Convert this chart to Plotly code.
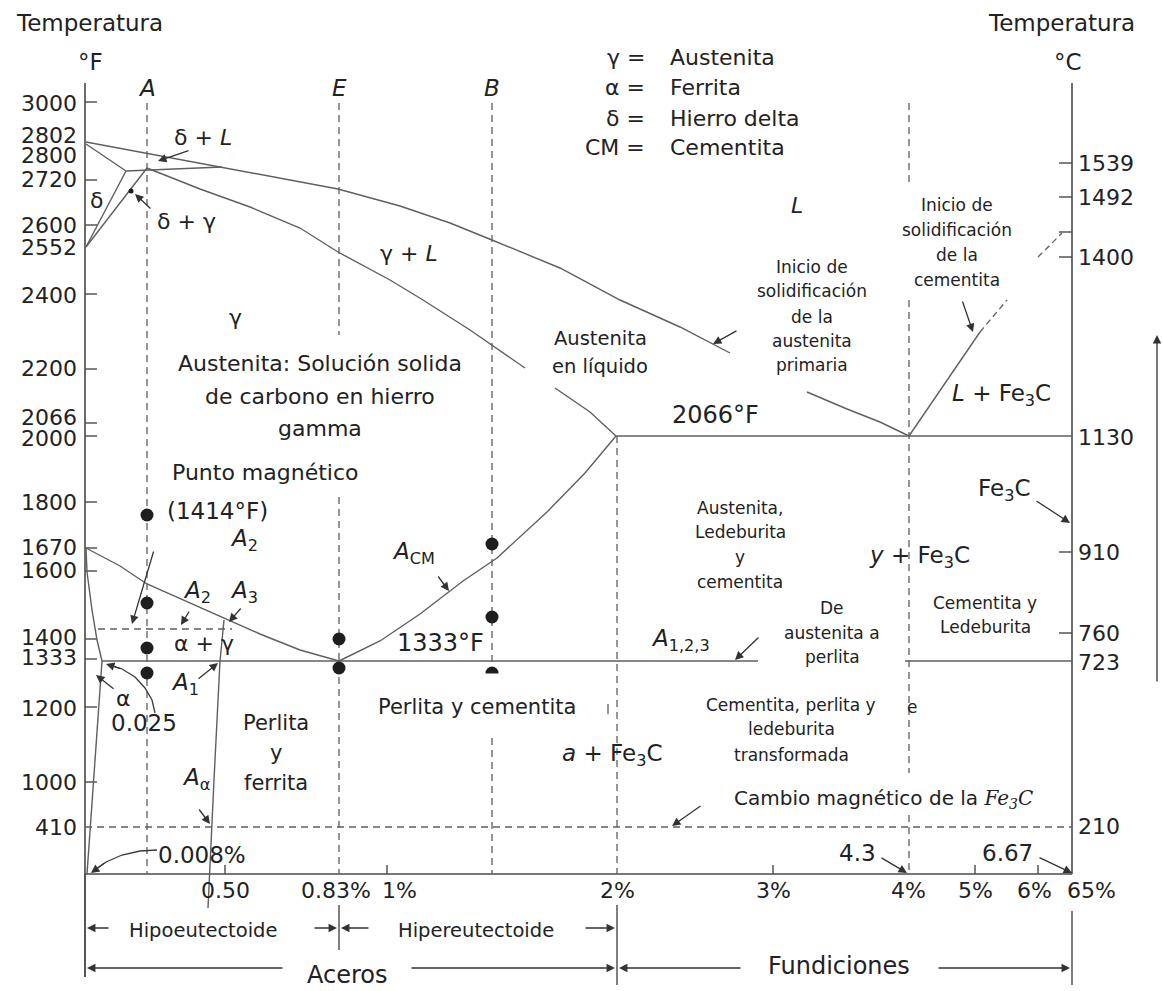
import plotly.graph_objects as go

W, H = 1163, 991
FONT = "DejaVu Sans"
INK = "#222222"
GREY = "#5f5f5f"
AXC = "#4a4a4a"

# ------------------------------------------------------------------
# DATA  (schematic diagram: coordinates are the drawing units of the
# original figure, x to the right, y downward)
# ------------------------------------------------------------------
# frame / axes
AXIS_LEFT_X, AXIS_LEFT_Y = [85, 85], [83, 977]
AXIS_RIGHT_X, AXIS_RIGHT_Y = [1072, 1072], [83, 874]
AXIS_BOTTOM_X, AXIS_BOTTOM_Y = [85, 1072], [874, 874]

# left temperature scale (°F)
F_LABELS = ["3000", "2802", "2800", "2720", "2600", "2552", "2400", "2200", "2066",
            "2000", "1800", "1670", "1600", "1400", "1333", "1200", "1000", "410"]
F_LABEL_Y = [103, 135, 155, 179, 225, 247, 295, 368, 417,
             438, 502, 547, 570, 637, 657, 708, 782, 827]
F_TICK_Y = [102, 180, 225, 294, 369, 423, 436, 502, 548, 571, 639, 659, 707, 782]

# right temperature scale (°C)
C_LABELS = ["1539", "1492", "1400", "1130", "910", "760", "723", "210"]
C_LABEL_Y = [163, 197, 257, 437, 552, 633, 662, 826]
C_TICK_Y = [163, 197, 232, 257, 552, 633]

# carbon content scale
X_LABELS = ["0.50", "0.83%", "1%", "2%", "3%", "4%", "5%", "6%", "65%"]
X_LABEL_X = [225, 336, 399, 617, 773, 908, 975, 1034, 1091]
X_TICK_X = [225, 387, 773, 975, 1038]

# phase boundaries
LIQUIDUS_1_X = [86, 150, 200, 260, 300, 338, 400, 450, 492, 560, 620, 680, 730]
LIQUIDUS_1_Y = [142, 154, 163, 174, 182, 189, 206, 223, 240, 268, 300, 327, 353]
LIQUIDUS_2_X = [807, 847, 880, 909]
LIQUIDUS_2_Y = [392, 409, 422, 436]
SOLIDUS_1_X = [147, 200, 250, 300, 338, 390, 423, 470, 525]
SOLIDUS_1_Y = [168, 189, 207, 228, 252, 280, 300, 330, 368]
SOLIDUS_2_X = [555, 590, 616]
SOLIDUS_2_Y = [388, 412, 436]
DELTA_LIQ_X, DELTA_LIQ_Y = [86, 126], [144, 171]
PERITECTIC_X, PERITECTIC_Y = [126, 222], [171, 167]
DELTA_SOLVUS_X, DELTA_SOLVUS_Y = [86, 126], [247, 171]
GAMMA_DELTA_X, GAMMA_DELTA_Y = [86, 147], [247, 168]
CEM_LIQ_X, CEM_LIQ_Y = [909, 980], [436, 332]
CEM_LIQ_DASH1_X, CEM_LIQ_DASH1_Y = [980, 1007], [332, 300]
CEM_LIQ_DASH2_X, CEM_LIQ_DASH2_Y = [1038, 1062], [257, 233]
EUTECTIC_X, EUTECTIC_Y = [616, 1072], [436, 436]
A3_X = [86, 120, 147, 190, 227, 260, 300, 339]
A3_Y = [548, 566, 584, 603, 620, 634, 650, 661]
ACM_X = [339, 380, 420, 463, 497, 547, 585, 616]
ACM_Y = [661, 641, 614, 581, 558, 512, 473, 436]
EUTECTOID_1_X, EUTECTOID_1_Y = [102, 758], [661, 661]
EUTECTOID_2_X, EUTECTOID_2_Y = [905, 1072], [661, 661]
ALPHA_X, ALPHA_Y = [86, 87, 92, 97, 102], [548, 572, 610, 640, 661]
ALPHA_SOLVUS_X, ALPHA_SOLVUS_Y = [102, 87], [661, 874]
A_ALPHA_X, A_ALPHA_Y = [224, 220, 214, 208], [620, 661, 780, 908]

# dashed reference lines
DASH_1400_X, DASH_1400_Y = [98, 232], [629, 629]
DASH_410_X, DASH_410_Y = [85, 1072], [827, 827]
VERT_DASH = [  # (x, y_start, y_end)
    (147, 103, 874),
    (339, 103, 335), (339, 497, 874),
    (492, 103, 673), (492, 738, 874),
    (617, 436, 874),
    (909, 103, 182), (909, 300, 773), (909, 815, 874),
]

# steel/cast-iron brackets under the axis
BRACKET_V = [(85, 874, 977), (339, 905, 950), (617, 905, 985), (1072, 911, 985)]
BRACKET_ARROWS = [  # (head_x, head_y, tail_x, tail_y)
    (87, 928, 110, 928), (337, 928, 313, 928), (341, 928, 370, 928), (615, 928, 584, 928),
    (87, 968, 284, 968), (615, 968, 410, 968), (619, 968, 742, 968), (1070, 968, 937, 968),
]

# observation points on the A, E, B alloys
DOT_X = [147, 147, 147, 147, 339, 339, 492, 492]
DOT_Y = [515, 603, 648, 673, 639, 668, 544, 617]
HALF_DOT = (492, 673)
SMALL_DOT = (131, 191)

# pointer arrows (head_x, head_y, tail_x, tail_y)
POINTERS = [
    (158, 161, 190, 150),    # δ + L
    (135, 194, 152, 210),    # δ + γ
    (132, 624, 154, 550),    # 1414 °F
    (181, 625, 190, 610),    # A2
    (229, 622, 242, 607),    # A3
    (218, 663, 197, 680),    # A1
    (96, 675, 115, 690),     # α
    (210, 824, 198, 808),    # Aα
    (449, 591, 437, 575),    # ACM
    (735, 660, 760, 636),    # A1,2,3
    (713, 344, 738, 330),    # primary austenite
    (973, 332, 962, 300),    # cementite
    (1070, 523, 1035, 500),  # Fe3C
    (672, 826, 702, 805),    # magnetic change
    (907, 873, 880, 857),    # 4.3
    (1072, 873, 1038, 857),  # 6.67
    (1157, 335, 1157, 683),  # temperature arrow
]
CURVE_0025_X, CURVE_0025_Y = [155, 152, 145, 135, 122, 110], [713, 700, 688, 677, 669, 665]
CURVE_0008_X, CURVE_0008_Y = [157, 140, 122, 106, 96], [850, 851, 855, 862, 869]

# text labels: (text, x, y, size, anchor)
I = lambda s: "<i>%s</i>" % s
FE3C = "Fe<sub>3</sub>C"
LABELS = [
    ("Temperatura", 89, 23, 23, "center"), ("Temperatura", 1061, 23, 23, "center"),
    ("°F", 90, 62, 23, "center"), ("°C", 1068, 62, 23, "center"),
    (I("A"), 147, 88, 23, "center"), (I("E"), 339, 88, 23, "center"), (I("B"), 492, 88, 23, "center"),
    ("γ =", 647, 57, 22, "right"), ("α =", 647, 87, 22, "right"),
    ("δ =", 647, 118, 22, "right"), ("CM =", 647, 147, 22, "right"),
    ("Austenita", 668, 57, 22, "left"), ("Ferrita", 668, 87, 22, "left"),
    ("Hierro delta", 668, 118, 22, "left"), ("Cementita", 668, 147, 22, "left"),
    ("δ + " + I("L"), 203, 137, 22, "center"), ("δ", 96, 200, 22, "center"),
    ("δ + γ", 186, 221, 22, "center"), ("γ", 235, 317, 22, "center"),
    ("γ + " + I("L"), 409, 253, 22, "center"), (I("L"), 797, 205, 22, "center"),
    ("Austenita: Solución solida", 320, 363, 22, "center"),
    ("de carbono en hierro", 320, 396, 22, "center"),
    ("gamma", 320, 428, 22, "center"),
    ("Punto magnético", 265, 472, 22, "center"),
    ("(1414°F)", 217, 511, 23, "center"),
    (I("A") + "<sub>2</sub>", 244, 540, 23, "center"),
    (I("A") + "<sub>2</sub>", 197, 592, 23, "center"),
    (I("A") + "<sub>3</sub>", 244, 592, 23, "center"),
    ("α + γ", 204, 643, 22, "center"),
    (I("A") + "<sub>1</sub>", 185, 684, 23, "center"),
    ("α", 123, 698, 22, "center"),
    ("0.025", 144, 723, 23, "center"),
    ("Perlita", 276, 723, 21, "center"), ("y", 276, 753, 21, "center"),
    ("ferrita", 276, 783, 21, "center"),
    (I("A") + "<sub>α</sub>", 196, 779, 23, "center"),
    ("0.008%", 202, 855, 23, "center"),
    ("Austenita", 600, 338, 19.5, "center"), ("en líquido", 600, 366, 19.5, "center"),
    ("2066°F", 715, 415, 24, "center"),
    ("Inicio de", 812, 267, 17, "center"), ("solidificación", 812, 291, 17, "center"),
    ("de la", 812, 317, 17, "center"), ("austenita", 812, 341, 17, "center"),
    ("primaria", 812, 365, 17, "center"),
    ("Inicio de", 957, 205, 17, "center"), ("solidificación", 957, 230, 17, "center"),
    ("de la", 957, 255, 17, "center"), ("cementita", 957, 280, 17, "center"),
    (I("L") + " + " + FE3C, 1001, 395, 23, "center"),
    (FE3C, 1004, 490, 23, "center"),
    (I("y") + " + " + FE3C, 919, 557, 23, "center"),
    ("Austenita,", 740, 508, 17, "center"), ("Ledeburita", 740, 532, 17, "center"),
    ("y", 740, 557, 17, "center"), ("cementita", 740, 582, 17, "center"),
    (I("A") + "<sub>CM</sub>", 413, 553, 23, "center"),
    ("1333°F", 440, 643, 24, "center"),
    (I("A") + "<sub>1,2,3</sub>", 680, 640, 23, "center"),
    ("De", 832, 608, 17, "center"), ("austenita a", 832, 633, 17, "center"),
    ("perlita", 832, 657, 17, "center"),
    ("Cementita y", 985, 603, 17, "center"), ("Ledeburita", 985, 627, 17, "center"),
    ("Perlita y cementita", 477, 707, 21, "center"),
    ("Cementita, perlita y", 791, 705, 17, "center"), ("ledeburita", 791, 729, 17, "center"),
    ("transformada", 791, 755, 17, "center"),
    ("e", 912, 707, 17, "center"),
    (I("a") + " + " + FE3C, 612, 755, 23, "center"),
    ("Cambio magnético de la <span style=\"font-family:'DejaVu Serif'\"><i>Fe<sub>3</sub>C</i></span>",
     732, 799, 20, "left"),
    ("4.3", 857, 853, 23, "center"), ("6.67", 1007, 853, 23, "center"),
    ("Hipoeutectoide", 203, 930, 19.5, "center"), ("Hipereutectoide", 476, 930, 19.5, "center"),
    ("Aceros", 347, 975, 24, "center"), ("Fundiciones", 839, 966, 24, "center"),
]

# ------------------------------------------------------------------
fig = go.Figure()


def line(xs, ys, color=GREY, width=1.4, dash=None):
    fig.add_trace(go.Scatter(x=xs, y=ys, mode="lines", hoverinfo="skip", showlegend=False,
                             line=dict(color=color, width=width, dash=dash)))


# axes
line(AXIS_LEFT_X, AXIS_LEFT_Y, AXC, 1.6)
line(AXIS_RIGHT_X, AXIS_RIGHT_Y, AXC, 1.6)
line(AXIS_BOTTOM_X, AXIS_BOTTOM_Y, AXC, 1.6)

tx, ty = [], []
for y in F_TICK_Y:
    tx += [85, 97, None]; ty += [y, y, None]
for y in C_TICK_Y:
    tx += [1059, 1072, None]; ty += [y, y, None]
for x in X_TICK_X:
    tx += [x, x, None]; ty += [865, 874, None]
line(tx, ty, AXC, 1.4)

# phase boundaries
for xs, ys in [(LIQUIDUS_1_X, LIQUIDUS_1_Y), (LIQUIDUS_2_X, LIQUIDUS_2_Y),
               (SOLIDUS_1_X, SOLIDUS_1_Y), (SOLIDUS_2_X, SOLIDUS_2_Y),
               (DELTA_LIQ_X, DELTA_LIQ_Y), (PERITECTIC_X, PERITECTIC_Y),
               (DELTA_SOLVUS_X, DELTA_SOLVUS_Y), (GAMMA_DELTA_X, GAMMA_DELTA_Y),
               (CEM_LIQ_X, CEM_LIQ_Y), (EUTECTIC_X, EUTECTIC_Y),
               (A3_X, A3_Y), (ACM_X, ACM_Y),
               (EUTECTOID_1_X, EUTECTOID_1_Y), (EUTECTOID_2_X, EUTECTOID_2_Y),
               (ALPHA_X, ALPHA_Y), (ALPHA_SOLVUS_X, ALPHA_SOLVUS_Y),
               (A_ALPHA_X, A_ALPHA_Y)]:
    line(xs, ys)

line(CEM_LIQ_DASH1_X, CEM_LIQ_DASH1_Y, GREY, 1.3, "6px,4px")
line(CEM_LIQ_DASH2_X, CEM_LIQ_DASH2_Y, GREY, 1.3, "6px,4px")
line(DASH_1400_X, DASH_1400_Y, GREY, 1.3, "7px,5px")
line(DASH_410_X, DASH_410_Y, GREY, 1.3, "7px,5px")
vx, vy = [], []
for x, y0, y1 in VERT_DASH:
    vx += [x, x, None]; vy += [y0, y1, None]
line(vx, vy, GREY, 1.3, "7px,5px")

# brackets
bx, by = [], []
for x, y0, y1 in BRACKET_V:
    bx += [x, x, None]; by += [y0, y1, None]
line(bx, by, AXC, 1.4)

# small artefact tick
line([608, 608], [704, 714], GREY, 1.3)

# curved pointers
line(CURVE_0025_X, CURVE_0025_Y, "#3a3a3a", 1.3)
line(CURVE_0008_X, CURVE_0008_Y, "#3a3a3a", 1.3)

# points
fig.add_trace(go.Scatter(x=DOT_X, y=DOT_Y, mode="markers", hoverinfo="skip", showlegend=False,
                         marker=dict(size=13, color="#1e1e1e")))
fig.add_trace(go.Scatter(x=[HALF_DOT[0]], y=[HALF_DOT[1]], mode="markers", hoverinfo="skip",
                         showlegend=False, marker=dict(size=13, color="#1e1e1e")))
fig.add_trace(go.Scatter(x=[SMALL_DOT[0]], y=[SMALL_DOT[1]], mode="markers", hoverinfo="skip",
                         showlegend=False, marker=dict(size=5, color="#1e1e1e")))
fig.add_shape(type="rect", x0=HALF_DOT[0] - 8, x1=HALF_DOT[0] + 8, y0=HALF_DOT[1] + 0.5,
              y1=HALF_DOT[1] + 9, fillcolor="white", line=dict(width=0), layer="above")

ARROW_STYLE = dict(xref="x", yref="y", axref="x", ayref="y", text="", showarrow=True,
                   arrowhead=2, arrowsize=1.3, arrowwidth=1.3, arrowcolor="#333333", standoff=0,
                   font=dict(family=FONT, size=10, color=INK))
annotations = []
for hx, hy, tx_, ty_ in POINTERS + BRACKET_ARROWS:
    annotations.append(dict(x=hx, y=hy, ax=tx_, ay=ty_, **ARROW_STYLE))
# heads of the curved pointers
annotations.append(dict(x=CURVE_0025_X[-1] - 4, y=CURVE_0025_Y[-1] - 1, ax=CURVE_0025_X[-2],
                        ay=CURVE_0025_Y[-2], **ARROW_STYLE))
annotations.append(dict(x=CURVE_0008_X[-1] - 5, y=CURVE_0008_Y[-1] + 4, ax=CURVE_0008_X[-2],
                        ay=CURVE_0008_Y[-2], **ARROW_STYLE))

for lab, y in zip(F_LABELS, F_LABEL_Y):
    annotations.append(dict(x=79, y=y, text=lab, xanchor="right", yanchor="middle", showarrow=False,
                            font=dict(family=FONT, size=22, color=INK)))
for lab, y in zip(C_LABELS, C_LABEL_Y):
    annotations.append(dict(x=1076, y=y, text=lab, xanchor="left", yanchor="middle", showarrow=False,
                            font=dict(family=FONT, size=22, color=INK)))
for lab, x in zip(X_LABELS, X_LABEL_X):
    annotations.append(dict(x=x, y=890, text=lab, xanchor="center", yanchor="middle", showarrow=False,
                            font=dict(family=FONT, size=22, color=INK)))
for text, x, y, size, anchor in LABELS:
    annotations.append(dict(x=x, y=y, text=text, xanchor=anchor, yanchor="middle", showarrow=False,
                            font=dict(family=FONT, size=size, color=INK)))
for a in annotations:
    a.setdefault("xref", "x"); a.setdefault("yref", "y")

fig.update_layout(
    width=W, height=H, margin=dict(l=0, r=0, t=0, b=0),
    paper_bgcolor="white", plot_bgcolor="white",
    xaxis=dict(range=[0, W], visible=False, fixedrange=True),
    yaxis=dict(range=[H, 0], visible=False, fixedrange=True),
    annotations=annotations, showlegend=False,
)

fig.write_html("out.html", config={"displayModeBar": False})
